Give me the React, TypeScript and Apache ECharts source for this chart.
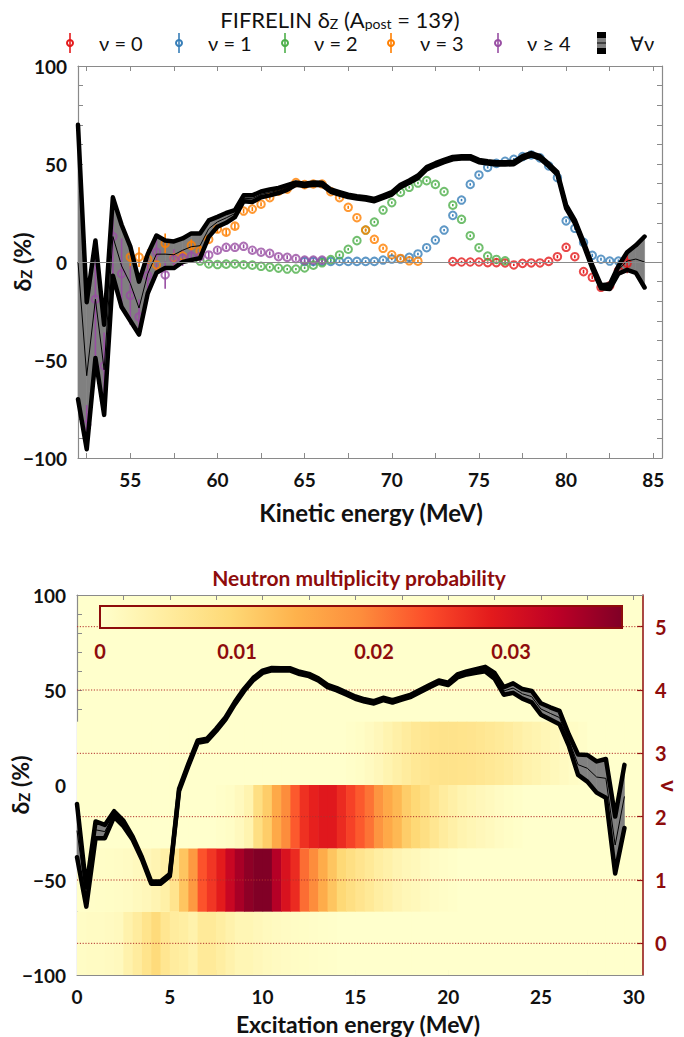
import React, { useEffect, useRef } from "react";
import * as echarts from "echarts";

// ---------------- DATA ----------------
// Top panel: kinetic energy grid (MeV)
const TOP_E = [52, 52.5, 53, 53.5, 54, 54.5, 55, 55.5, 56, 56.5, 57, 57.5, 58, 58.5, 59, 59.5, 60, 60.5, 61, 61.5, 62, 62.5, 63, 63.5, 64, 64.5, 65, 65.5, 66, 66.5, 67, 67.5, 68, 68.5, 69, 69.5, 70, 70.5, 71, 71.5, 72, 72.5, 73, 73.5, 74, 74.5, 75, 75.5, 76, 76.5, 77, 77.5, 78, 78.5, 79, 79.5, 80, 80.5, 81, 81.5, 82, 82.5, 83, 83.5, 84, 84.5];
// all-nu delta_Z mean and uncertainty (%)
const TOP_MEAN = [0, -58, -19, -55, 13, -2, -11, -23.5, -6, 4, 4, 3.7, 6, 7.8, 8.3, 17, 20.5, 22.5, 24.7, 32.5, 32.3, 34.5, 35.5, 36.5, 38, 40, 39.3, 40, 39.8, 36.4, 35, 33.7, 33, 32.5, 31.6, 33.3, 35, 38.8, 41, 43.5, 47.8, 49.8, 51.5, 53, 53.4, 53.4, 51.5, 50.8, 50.3, 50.3, 50.5, 53.4, 55, 53.4, 49.5, 45.2, 28.2, 20.6, 9.5, -2.4, -12.6, -12.6, -4, 0.5, 1.5, 0];
const TOP_ERR = [70, 37.5, 30, 23, 20, 21, 19, 13.5, 10, 9.5, 7, 6.8, 6, 6.8, 6.3, 4.2, 2.5, 2.5, 1.8, 1.5, 1.7, 1.5, 1.5, 1.3, 1.2, 0.6, 0.6, 0.6, 0.6, 0.6, 0.6, 0.6, 0.6, 0.6, 0.6, 0.6, 0.6, 0.6, 0.6, 0.6, 0.6, 0.6, 0.6, 0.6, 0.6, 0.6, 0.6, 0.6, 0.6, 0.6, 0.6, 0.6, 0.6, 0.6, 0.6, 0.6, 0.8, 0.8, 0.8, 0.8, 0.8, 1.2, 2, 4.5, 7, 13];

// per-multiplicity points: [E, deltaZ, err]
const NU0 = [[73.5, 0.2, 0.6], [74, 0, 0.6], [74.5, 0, 0.6], [75, 0, 0.6], [75.5, -0.3, 0.6], [76, -0.3, 0.6], [76.5, -0.5, 0.6], [77, -1.5, 0.6], [77.5, -0.7, 0.6], [78, -0.5, 0.6], [78.5, -0.5, 0.6], [79, 0.3, 0.6], [79.5, 2.7, 0.8], [80, 7.5, 0.8], [80.5, 2.7, 0.8], [81, -4.9, 1], [81.5, -7.8, 1], [82, -12.9, 1], [82.5, -12.2, 1.2], [83, -4.4, 2], [83.5, -0.7, 5]];
const NU1 = [[65, 0.3, 0.6], [65.5, 0.3, 0.6], [66, 0.3, 0.6], [66.5, 0.3, 0.6], [67, 0.3, 0.6], [67.5, 0.3, 0.6], [68, 0.3, 0.6], [68.5, 0.3, 0.6], [69, 0.3, 0.6], [69.5, 1, 0.6], [70, 1.5, 0.6], [70.5, 1.5, 0.6], [71, 2.4, 0.6], [71.5, 4.1, 0.6], [72, 7.3, 0.6], [72.5, 11.2, 0.6], [73, 16.3, 0.6], [73.5, 23.8, 0.6], [74, 31.6, 0.6], [74.5, 39.6, 0.6], [75, 44.4, 0.6], [75.5, 48.3, 0.6], [76, 50.3, 0.6], [76.5, 51.4, 0.6], [77, 52.4, 0.6], [77.5, 53.8, 0.6], [78, 54.6, 0.6], [78.5, 53.1, 0.6], [79, 49, 0.6], [79.5, 43, 0.6], [80, 21, 0.8], [80.5, 17.2, 0.8], [81, 10, 0.8], [81.5, 3.4, 0.8], [82, 1.4, 0.8], [82.5, 0.5, 0.8], [83, 0.5, 0.8]];
const NU2 = [[59, 0.5, 0.8], [59.5, -1, 0.8], [60, -1.3, 0.6], [60.5, -1.1, 0.6], [61, -1, 0.6], [61.5, -1.4, 0.6], [62, -1.6, 0.6], [62.5, -2.2, 0.6], [63, -2.6, 0.6], [63.5, -3.1, 0.6], [64, -3.6, 0.6], [64.5, -3.6, 0.6], [65, -3, 0.6], [65.5, -1.6, 0.6], [66, -0.4, 0.6], [66.5, 1.2, 0.6], [67, 3.6, 0.6], [67.5, 6.5, 0.6], [68, 10.9, 0.6], [68.5, 16.3, 0.6], [69, 20.4, 0.6], [69.5, 26.5, 0.6], [70, 30.3, 0.6], [70.5, 35.5, 0.6], [71, 38.1, 0.6], [71.5, 40.3, 0.6], [72, 41.5, 0.6], [72.5, 39.6, 0.6], [73, 35.9, 0.6], [73.5, 29, 0.6], [74, 21.8, 0.6], [74.5, 13.4, 0.6], [75, 7.3, 0.6], [75.5, 3, 0.6], [76, 1.3, 0.6], [76.5, 0.6, 0.6]];
const NU3 = [[55, 2.5, 6], [55.5, 2.5, 5], [56, 1.5, 5], [56.5, -1.5, 6], [57, 9.5, 5], [57.5, 2, 4], [58, 3, 3], [58.5, 8.5, 3], [59, 5.7, 3], [59.5, 11.5, 2], [60, 16.8, 2], [60.5, 15.2, 1.5], [61, 18.3, 1.5], [61.5, 26, 1.2], [62, 27, 1], [62.5, 29.5, 1], [63, 32.8, 1], [63.5, 36.1, 1], [64, 37.2, 1], [64.5, 40.5, 1], [65, 39.5, 1], [65.5, 39.8, 1], [66, 39.8, 1], [66.5, 35.9, 0.8], [67, 32.8, 0.8], [67.5, 27.9, 0.8], [68, 22.6, 0.8], [68.5, 16.3, 0.8], [69, 11.6, 0.8], [69.5, 7, 0.8], [70, 3.7, 0.8], [70.5, 1.8, 0.8], [71, 0.6, 0.8], [71.5, 0.4, 0.8]];
const NU4 = [[52.5, -83, 10], [53, -19, 30], [53.5, -53, 17], [54, 13, 20], [54.5, -6, 18], [55, -17, 15], [55.5, -28, 9], [56, -7, 9], [56.5, 5, 9], [57, -6.6, 7], [57.5, 1.5, 5], [58, 2, 4], [58.5, 3, 3], [59, 2.7, 2], [59.5, 3.6, 1.5], [60, 6, 1.2], [60.5, 7.5, 1], [61, 7.5, 1], [61.5, 8, 1], [62, 6, 1], [62.5, 5, 1], [63, 4.4, 1], [63.5, 2.7, 1], [64, 2.4, 1], [64.5, 1.7, 1], [65, 1, 1], [65.5, 1, 1], [66, 1, 1]];
const NU_SERIES = [NU0, NU1, NU2, NU3, NU4];
const NU_NAMES = ["\u03bd = 0", "\u03bd = 1", "\u03bd = 2", "\u03bd = 3", "\u03bd \u2265 4"];

// Bottom panel: excitation energy grid (MeV)
const BOT_E = [0, 0.5, 1, 1.5, 2, 2.5, 3, 3.5, 4, 4.5, 5, 5.5, 6, 6.5, 7, 7.5, 8, 8.5, 9, 9.5, 10, 10.5, 11, 11.5, 12, 12.5, 13, 13.5, 14, 14.5, 15, 15.5, 16, 16.5, 17, 17.5, 18, 18.5, 19, 19.5, 20, 20.5, 21, 21.5, 22, 22.5, 23, 23.5, 24, 24.5, 25, 25.5, 26, 26.5, 27, 27.5, 28, 28.5, 29, 29.5];
const BOT_MEAN = [-24, -59, -23.6, -24.5, -15.3, -20.2, -28, -38.6, -51.4, -51.4, -47.4, -2.6, 10.5, 22.8, 23.7, 29, 35, 43, 50, 55.8, 59.6, 61, 60.8, 60.8, 59, 57.9, 55.6, 52.1, 50.4, 48.2, 46, 44.5, 43.5, 45.3, 44, 45.5, 47, 49.5, 52, 54.4, 53.2, 57.4, 59, 60, 61, 57.5, 49.5, 51, 48, 46.5, 40, 37.7, 35.5, 23.7, 10.7, 8.8, 4.2, 3.5, -31.6, -6];
const BOT_ERR = [14, 5, 4.4, 3.5, 1.5, 1.5, 0.8, 0.6, 0.6, 0.6, 0.6, 0.6, 0.6, 0.6, 0.6, 0.6, 0.6, 0.6, 0.6, 0.6, 0.6, 0.6, 0.6, 0.6, 0.6, 0.6, 0.6, 0.6, 0.6, 0.6, 0.6, 0.6, 0.6, 0.6, 0.6, 0.6, 0.6, 0.6, 0.6, 0.6, 0.6, 0.8, 0.8, 1, 1.2, 1.5, 2, 2.5, 2.5, 3, 3, 3.2, 3.5, 3, 5.4, 7, 8.2, 10.2, 15, 16.6];

// Neutron multiplicity probability per 0.5 MeV excitation-energy bin (bin start = BOT_E)
const NU_LEVELS = [0, 1, 2, 3];
const P_NU0 = [0.0008, 0.001, 0.001, 0.0012, 0.0015, 0.0035, 0.005, 0.007, 0.009, 0.0065, 0.005, 0.0045, 0.0035, 0.0055, 0.0055, 0.0045, 0.0035, 0.0025, 0.0025, 0.002, 0.0015, 0.0012, 0.001, 0.0008, 0.0006, 0.0004, 0.0003, 0.0002, 0, 0, 0, 0, 0, 0, 0, 0, 0, 0, 0, 0, 0, 0, 0, 0, 0, 0, 0, 0, 0, 0, 0, 0, 0, 0, 0, 0, 0, 0, 0, 0];
const P_NU1 = [0.0003, 0.0004, 0.0005, 0.0006, 0.0008, 0.001, 0.0015, 0.002, 0.0028, 0.004, 0.0068, 0.012, 0.0175, 0.0235, 0.026, 0.0285, 0.032, 0.035, 0.037, 0.038, 0.038, 0.034, 0.03, 0.027, 0.0215, 0.019, 0.015, 0.012, 0.0095, 0.008, 0.0068, 0.0058, 0.0045, 0.0038, 0.0028, 0.0022, 0.0018, 0.0012, 0.0008, 0.0005, 0.0003, 0, 0, 0, 0, 0, 0, 0, 0, 0, 0, 0, 0, 0, 0, 0, 0, 0, 0, 0];
const P_NU2 = [0, 0, 0, 0, 0, 0, 0, 0, 0, 0, 0, 0, 0, 0, 0, 0.0003, 0.0006, 0.0015, 0.003, 0.008, 0.011, 0.0155, 0.019, 0.023, 0.0265, 0.028, 0.029, 0.029, 0.027, 0.025, 0.023, 0.021, 0.018, 0.0155, 0.0135, 0.011, 0.0095, 0.008, 0.0065, 0.005, 0.004, 0.003, 0.0025, 0.002, 0.0015, 0.001, 0.0006, 0.0003, 0, 0, 0, 0, 0, 0, 0, 0, 0, 0, 0, 0];
const P_NU3 = [0, 0, 0, 0, 0, 0, 0, 0, 0, 0, 0, 0, 0, 0, 0, 0, 0, 0, 0, 0, 0, 0, 0, 0, 0, 0, 0, 0, 0, 0.0003, 0.0006, 0.0012, 0.002, 0.003, 0.004, 0.005, 0.006, 0.0065, 0.007, 0.0072, 0.0072, 0.007, 0.0068, 0.0065, 0.006, 0.0055, 0.005, 0.0042, 0.0035, 0.003, 0.0024, 0.0018, 0.0012, 0.0008, 0.0004, 0, 0, 0, 0, 0];
const P_NU = [P_NU0, P_NU1, P_NU2, P_NU3];
const BIN_WIDTH = 0.5;
const PROB_MAX = 0.0381;

// Tick lists
const TOP_X_TICKS = [52.5, 55, 57.5, 60, 62.5, 65, 67.5, 70, 72.5, 75, 77.5, 80, 82.5, 85];
const TOP_X_LABELS = [55, 60, 65, 70, 75, 80, 85];
const BOT_X_TICKS = [0, 2.5, 5, 7.5, 10, 12.5, 15, 17.5, 20, 22.5, 25, 27.5, 30];
const BOT_X_LABELS = [0, 5, 10, 15, 20, 25, 30];
const NU_TICKS = [0, 1, 2, 3, 4, 5];
const CB_TICKS = [0, 0.002, 0.004, 0.006, 0.008, 0.01, 0.012, 0.014, 0.016, 0.018, 0.02, 0.022, 0.024, 0.026, 0.028, 0.03, 0.032, 0.034, 0.036, 0.038];
const CB_LABELS = [0, 0.01, 0.02, 0.03];

// ---------------- STYLE ----------------
const FONT = "Lato";
const DARK_RED = "#8e0c0c";
const AXIS_GREY = "#8a8a8a";
const NU_COLORS = ["#e41a1c", "#377eb8", "#4daf4a", "#ff7f00", "#984ea3"];
const YLORRD = ["#ffffcc", "#ffeda0", "#fed976", "#feb24c", "#fd8d3c", "#fc4e2a", "#e31a1c", "#bd0026", "#800026"];

const fmtNum = (v: number) => (v < 0 ? "\u2212" + Math.abs(v) : String(v));
const lbl = (size: number, color = "#111") => ({ fontFamily: FONT, fontWeight: "bold" as const, fontSize: size, color });

function bandSeries(E: number[], mean: number[], err: number[], xi: number, yi: number) {
  const data: number[][] = [];
  for (let i = 0; i < E.length - 1; i++) {
    data.push([E[i], mean[i] - err[i], mean[i] + err[i], E[i + 1], mean[i + 1] - err[i + 1], mean[i + 1] + err[i + 1]]);
  }
  return {
    type: "custom",
    xAxisIndex: xi,
    yAxisIndex: yi,
    silent: true,
    encode: { x: [0, 3], y: [1, 2, 4, 5] },
    data,
    renderItem: (_p: any, api: any) => {
      const a = api.coord([api.value(0), api.value(1)]);
      const b = api.coord([api.value(0), api.value(2)]);
      const c = api.coord([api.value(3), api.value(5)]);
      const d = api.coord([api.value(3), api.value(4)]);
      return {
        type: "polygon",
        shape: { points: [a, b, c, d] },
        style: { fill: "#808080", stroke: "#808080", lineWidth: 0.6 },
      };
    },
  };
}

function bandLines(E: number[], mean: number[], err: number[], xi: number, yi: number, withZero: boolean) {
  const thick = { color: "#000", width: 4.5, join: "round", cap: "round" };
  const mk = (vals: number[], ls: any, extra: any = {}) => ({
    type: "line",
    xAxisIndex: xi,
    yAxisIndex: yi,
    silent: true,
    symbol: "none",
    showSymbol: false,
    data: E.map((e, i) => [e, vals[i]]),
    lineStyle: ls,
    ...extra,
  });
  const zero = withZero
    ? {
        markLine: {
          silent: true,
          symbol: ["none", "none"],
          label: { show: false },
          lineStyle: { color: AXIS_GREY, width: 1, type: "solid" },
          data: [{ yAxis: 0 }],
        },
      }
    : {};
  return [
    mk(mean.map((m, i) => m + err[i]), thick),
    mk(mean.map((m, i) => m - err[i]), thick),
    mk(mean, { color: "#000", width: 1 }, zero),
  ];
}

function errSeries(rows: number[][], color: string) {
  return {
    type: "custom",
    xAxisIndex: 0,
    yAxisIndex: 0,
    silent: true,
    encode: { x: 0, y: [1, 2] },
    data: rows.map((r) => [r[0], r[1] - r[2], r[1] + r[2]]),
    renderItem: (_p: any, api: any) => {
      const lo = api.coord([api.value(0), api.value(1)]);
      const hi = api.coord([api.value(0), api.value(2)]);
      return {
        type: "line",
        shape: { x1: lo[0], y1: lo[1], x2: hi[0], y2: hi[1] },
        style: { stroke: color, lineWidth: 1.6 },
      };
    },
  };
}

function pointSeries(rows: number[][], color: string, name: string) {
  return {
    type: "scatter",
    name,
    xAxisIndex: 0,
    yAxisIndex: 0,
    silent: true,
    symbol: "circle",
    symbolSize: 7.5,
    data: rows.map((r) => [r[0], r[1]]),
    itemStyle: { color: "rgba(0,0,0,0)", borderColor: color, borderWidth: 2 },
  };
}

function buildOption() {
  const heatData: number[][] = [];
  NU_LEVELS.forEach((nu, j) => {
    P_NU[j].forEach((p, k) => heatData.push([BOT_E[k], nu, p]));
  });

  const cbGradient = new echarts.graphic.LinearGradient(
    0, 0, 1, 0,
    YLORRD.map((c, i) => ({ offset: i / (YLORRD.length - 1), color: c }))
  );

  const series: any[] = [];
  // 0: heatmap
  series.push({
    type: "custom",
    xAxisIndex: 2,
    yAxisIndex: 3,
    silent: true,
    encode: { x: 0, y: 1 },
    data: heatData,
    renderItem: (_p: any, api: any) => {
      const x0 = api.value(0);
      const nu = api.value(1);
      const p1 = api.coord([x0, nu + 0.5]);
      const p2 = api.coord([x0 + BIN_WIDTH, nu - 0.5]);
      return {
        type: "rect",
        shape: { x: p1[0], y: p1[1], width: p2[0] - p1[0] + 0.6, height: p2[1] - p1[1] },
        style: { fill: api.visual("color") },
      };
    },
  });
  // 1: dotted multiplicity lines
  series.push({
    type: "custom",
    xAxisIndex: 2,
    yAxisIndex: 3,
    silent: true,
    encode: { x: 0, y: 1 },
    data: NU_TICKS.map((n) => [0, n]),
    renderItem: (params: any, api: any) => {
      const cs = params.coordSys;
      const y = api.coord([0, api.value(1)])[1];
      return {
        type: "line",
        shape: { x1: cs.x, y1: y, x2: cs.x + cs.width, y2: y },
        style: { stroke: "#b3312c", lineWidth: 1, lineDash: [1.2, 1.6] },
      };
    },
  });
  // bottom band
  series.push(bandSeries(BOT_E, BOT_MEAN, BOT_ERR, 2, 2));
  series.push(...bandLines(BOT_E, BOT_MEAN, BOT_ERR, 2, 2, false));
  // top band
  series.push(bandSeries(TOP_E, TOP_MEAN, TOP_ERR, 0, 0));
  series.push(...bandLines(TOP_E, TOP_MEAN, TOP_ERR, 0, 0, true));
  // multiplicity points
  NU_SERIES.forEach((rows, i) => {
    series.push(errSeries(rows, NU_COLORS[i]));
    series.push(pointSeries(rows, NU_COLORS[i], NU_NAMES[i]));
  });

  const greyLine = { show: true, onZero: false, lineStyle: { color: AXIS_GREY, width: 1.2 } };
  const greyTick = (vals?: number[]) => ({
    show: true,
    inside: true,
    length: 5,
    ...(vals ? { customValues: vals } : {}),
    lineStyle: { color: AXIS_GREY, width: 1 },
  });
  const redTick = (vals: number[], len = 4) => ({
    show: true,
    inside: true,
    length: len,
    customValues: vals,
    lineStyle: { color: DARK_RED, width: 1.2 },
  });

  const xAxis: any[] = [
    {
      type: "value", gridIndex: 0, min: 52, max: 85.5, position: "bottom",
      axisLine: greyLine, axisTick: greyTick(TOP_X_TICKS), splitLine: { show: false },
      axisLabel: { customValues: TOP_X_LABELS, margin: 12, formatter: fmtNum, ...lbl(19) },
    },
    {
      type: "value", gridIndex: 0, min: 52, max: 85.5, position: "top",
      axisLine: greyLine, axisTick: greyTick(TOP_X_TICKS), splitLine: { show: false }, axisLabel: { show: false },
    },
    {
      type: "value", gridIndex: 1, min: 0, max: 30.5, position: "bottom",
      axisLine: greyLine, axisTick: greyTick(BOT_X_TICKS), splitLine: { show: false },
      axisLabel: { customValues: BOT_X_LABELS, margin: 12, formatter: fmtNum, ...lbl(19) },
    },
    {
      type: "value", gridIndex: 1, min: 0, max: 30.5, position: "top",
      axisLine: greyLine, axisTick: greyTick(BOT_X_TICKS), splitLine: { show: false }, axisLabel: { show: false },
    },
    {
      type: "value", gridIndex: 2, min: 0, max: PROB_MAX, position: "bottom",
      axisLine: { show: false }, axisTick: redTick(CB_TICKS), splitLine: { show: false },
      axisLabel: {
        customValues: CB_LABELS, margin: 13,
        formatter: (v: number) => (v === 0 ? "0" : String(Number(v.toFixed(3)))),
        ...lbl(20, DARK_RED),
      },
    },
    {
      type: "value", gridIndex: 2, min: 0, max: PROB_MAX, position: "top",
      axisLine: { show: false }, axisTick: redTick(CB_TICKS), splitLine: { show: false }, axisLabel: { show: false },
    },
  ];

  const yDelta = (gi: number, pos: "left" | "right", labels: boolean) => ({
    type: "value", gridIndex: gi, min: -100, max: 100, interval: 50, position: pos,
    axisLine: greyLine,
    axisTick: greyTick(),
    minorTick: { show: true, splitNumber: 5, length: 5, lineStyle: { color: AXIS_GREY, width: 1 } },
    splitLine: { show: false },
    axisLabel: labels ? { margin: 11, formatter: fmtNum, ...lbl(19) } : { show: false },
  });

  const yAxis: any[] = [
    yDelta(0, "left", true),
    yDelta(0, "right", false),
    yDelta(1, "left", true),
    {
      type: "value", gridIndex: 1, min: -0.5, max: 5.5, position: "right",
      axisLine: { show: true, onZero: false, lineStyle: { color: DARK_RED, width: 1.5 } },
      axisTick: redTick(NU_TICKS, 6),
      splitLine: { show: false },
      axisLabel: { customValues: NU_TICKS, margin: 12, ...lbl(20, DARK_RED) },
    },
    { type: "value", gridIndex: 2, min: 0, max: 1, show: false },
  ];

  const sub = (size: number, weight: string, color: string) => ({
    m: { fontFamily: FONT, fontSize: size, fontWeight: weight, fill: color, lineHeight: size + 4, verticalAlign: "bottom" },
    s: { fontFamily: FONT, fontSize: Math.round(size * 0.64), fontWeight: weight, fill: color, lineHeight: Math.round(size * 0.55), verticalAlign: "bottom" },
  });

  const legendX = [70, 179, 285, 391, 498];
  const legendY = 43;
  const legend: any[] = [];
  NU_NAMES.forEach((name, i) => {
    const x = legendX[i];
    legend.push({
      type: "line", shape: { x1: x, y1: legendY - 10, x2: x, y2: legendY + 10 },
      style: { stroke: NU_COLORS[i], lineWidth: 1.6 },
    });
    legend.push({
      type: "circle", shape: { cx: x, cy: legendY, r: 3 },
      style: { stroke: NU_COLORS[i], lineWidth: 2, fill: "none" },
    });
    legend.push({
      type: "text", x: x + 29, y: legendY,
      style: { text: name, fontFamily: FONT, fontSize: 20, fill: "#111", verticalAlign: "middle", align: "left" },
    });
  });
  legend.push({ type: "rect", shape: { x: 597, y: legendY - 11, width: 9, height: 22 }, style: { fill: "#000" } });
  legend.push({ type: "rect", shape: { x: 597, y: legendY - 5, width: 9, height: 10 }, style: { fill: "#808080" } });
  legend.push({ type: "line", shape: { x1: 597, y1: legendY, x2: 606, y2: legendY }, style: { stroke: "#000", lineWidth: 1 } });
  legend.push({
    type: "text", x: 630, y: legendY,
    style: { text: "\u2200\u03bd", fontFamily: FONT, fontSize: 20, fill: "#111", verticalAlign: "middle", align: "left" },
  });

  const graphic: any[] = [
    {
      type: "text", x: 340, y: 17,
      style: {
        text: "{m|FIFRELIN \u03b4}{s|Z}{m| (A}{s|post}{m| = 139)}",
        rich: sub(22, "normal", "#111"), align: "center", verticalAlign: "middle",
      },
    },
    ...legend,
    {
      type: "text", x: 20, y: 262, rotation: Math.PI / 2,
      style: { text: "{m|\u03b4}{s|Z}{m| (%)}", rich: sub(23, "bold", "#111"), align: "center", verticalAlign: "middle" },
    },
    {
      type: "text", x: 371, y: 512,
      style: { text: "Kinetic energy (MeV)", fontFamily: FONT, fontWeight: "bold", fontSize: 24, fill: "#111", align: "center", verticalAlign: "middle" },
    },
    {
      type: "text", x: 359, y: 577,
      style: { text: "Neutron multiplicity probability", fontFamily: FONT, fontWeight: "bold", fontSize: 21, fill: DARK_RED, align: "center", verticalAlign: "middle" },
    },
    {
      type: "text", x: 18, y: 785, rotation: Math.PI / 2,
      style: { text: "{m|\u03b4}{s|Z}{m| (%)}", rich: sub(23, "bold", "#111"), align: "center", verticalAlign: "middle" },
    },
    {
      type: "text", x: 358, y: 1024,
      style: { text: "Excitation energy (MeV)", fontFamily: FONT, fontWeight: "bold", fontSize: 23, fill: "#111", align: "center", verticalAlign: "middle" },
    },
    {
      type: "text", x: 669, y: 786, rotation: -Math.PI / 2,
      style: { text: "\u03bd", fontFamily: FONT, fontWeight: "bold", fontSize: 22, fill: DARK_RED, align: "center", verticalAlign: "middle" },
    },
  ];

  return {
    animation: false,
    backgroundColor: "#ffffff",
    textStyle: { fontFamily: FONT },
    grid: [
      { left: 78, top: 66, width: 584, height: 392, show: false },
      { left: 77, top: 595, width: 566, height: 380, show: true, backgroundColor: "#ffffcc", borderWidth: 0 },
      { left: 100, top: 606, width: 522, height: 22, show: true, backgroundColor: cbGradient, borderColor: DARK_RED, borderWidth: 2, z: 3 },
    ],
    xAxis,
    yAxis,
    visualMap: [
      {
        type: "continuous", show: false, min: 0, max: PROB_MAX, dimension: 2, seriesIndex: 0,
        inRange: { color: YLORRD },
      },
    ],
    graphic,
    series,
  };
}

export default function App() {
  const ref = useRef<HTMLDivElement>(null);
  useEffect(() => {
    if (!ref.current) return;
    const chart = echarts.init(ref.current, null, { renderer: "svg" });
    chart.setOption(buildOption() as any);
    return () => chart.dispose();
  }, []);
  return (
    <div
      ref={ref}
      style={{ position: "absolute", left: 0, top: 0, width: 684, height: 1037, background: "#fff" }}
    />
  );
}
